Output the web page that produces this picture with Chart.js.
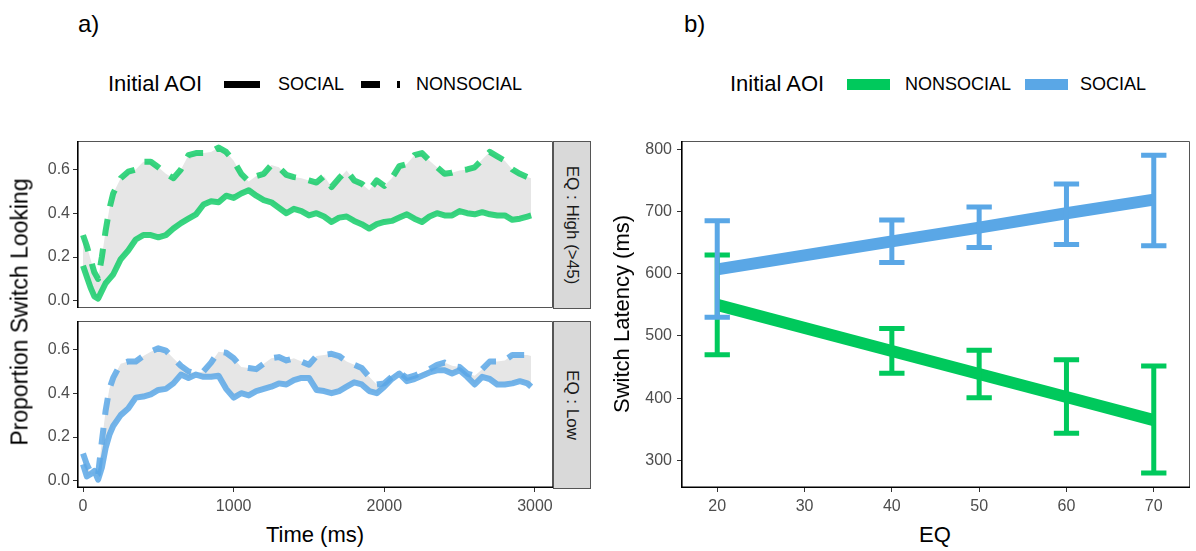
<!DOCTYPE html>
<html><head><meta charset="utf-8">
<script src="https://cdn.jsdelivr.net/npm/chart.js@4"></script>
<style>
body{margin:0;background:#fff;font-family:"Liberation Sans",Arial,sans-serif;}
#wrap{position:relative;width:1196px;height:551px;overflow:hidden;background:#fff;}
canvas{position:absolute;}
.t{position:absolute;white-space:nowrap;line-height:1;color:#000;}
.key{position:absolute;}
.strip{position:absolute;box-sizing:border-box;background:#d9d9d9;border:1px solid #555;}
</style></head>
<body>
<div id="wrap">
  <div class="t" style="left:78px;top:12px;font-size:24px;">a)</div>
  <div class="t" style="left:684px;top:12px;font-size:24px;">b)</div>

  <div class="t" style="left:108px;top:84px;font-size:22px;transform:translateY(-50%);">Initial AOI</div>
  <div class="key" style="left:224px;top:81px;width:36px;height:7px;background:#000;"></div>
  <div class="t" style="left:278px;top:84px;font-size:18px;transform:translateY(-50%);">SOCIAL</div>
  <div class="key" style="left:361px;top:81px;width:19px;height:7px;background:#000;"></div>
  <div class="key" style="left:397px;top:81px;width:3px;height:7px;background:#000;"></div>
  <div class="t" style="left:416px;top:84px;font-size:18px;transform:translateY(-50%);">NONSOCIAL</div>

  <div class="t" style="left:730px;top:84px;font-size:22px;transform:translateY(-50%);">Initial AOI</div>
  <div class="key" style="left:847px;top:79px;width:43px;height:11px;background:#00C95C;"></div>
  <div class="t" style="left:905px;top:84px;font-size:18px;transform:translateY(-50%);">NONSOCIAL</div>
  <div class="key" style="left:1025px;top:79px;width:43px;height:11px;background:#5AA7E6;"></div>
  <div class="t" style="left:1080px;top:84px;font-size:18px;transform:translateY(-50%);">SOCIAL</div>

  <canvas id="cTop" width="553" height="167" style="left:0;top:141px;width:553px;height:167px;"></canvas>
  <canvas id="cBot" width="553" height="199" style="left:0;top:321px;width:553px;height:199px;"></canvas>
  <canvas id="cB" width="590" height="379" style="left:600px;top:141px;width:590px;height:379px;"></canvas>

  <div class="strip" style="left:553px;top:141px;width:38px;height:168px;"></div>
  <div class="strip" style="left:553px;top:321px;width:38px;height:168px;"></div>
  <div class="t" style="left:572px;top:225px;font-size:17px;color:#1a1a1a;transform:translate(-50%,-50%) rotate(90deg);">EQ : High (&gt;45)</div>
  <div class="t" style="left:572px;top:405px;font-size:17px;color:#1a1a1a;transform:translate(-50%,-50%) rotate(90deg);">EQ : Low</div>

  <div class="t" style="left:20px;top:312px;font-size:23px;transform:translate(-50%,-50%) rotate(-90deg);">Proportion Switch Looking</div>
  <div class="t" style="left:315px;top:535px;font-size:22px;transform:translate(-50%,-50%);">Time (ms)</div>
  <div class="t" style="left:622px;top:314px;font-size:22px;transform:translate(-50%,-50%) rotate(-90deg);">Switch Latency (ms)</div>
  <div class="t" style="left:935px;top:535px;font-size:22px;transform:translate(-50%,-50%);">EQ</div>
</div>
<script>
// ---------- Data: panel a (time course) ----------
const timeMs = [0,25,50,75,100,125,150,175,200,250,300,350,400,450,500,550,600,650,700,750,800,850,900,950,1000,1050,1100,1150,1200,1250,1300,1350,1400,1450,1500,1550,1600,1650,1700,1750,1800,1850,1900,1950,2000,2050,2100,2150,2200,2250,2300,2350,2400,2450,2500,2550,2600,2650,2700,2750,2800,2850,2900,2950,2975];

const highSocial = [0.16,0.11,0.06,0.02,0.01,0.045,0.08,0.10,0.12,
 0.19,0.23,0.28,0.30,0.30,0.29,0.30,0.33,0.355,0.375,0.395,0.44,0.455,0.45,0.48,0.47,0.49,0.505,0.48,0.46,0.45,0.425,0.40,0.42,0.41,0.39,0.40,0.385,0.36,0.38,0.385,0.365,0.35,0.33,0.35,0.36,0.365,0.38,0.395,0.375,0.36,0.385,0.40,0.39,0.39,0.41,0.40,0.395,0.405,0.395,0.39,0.39,0.37,0.375,0.385,
 0.39];

const highNonsocial = [0.30,0.25,0.19,0.13,0.10,0.20,0.32,0.42,0.49,
 0.56,0.59,0.60,0.635,0.635,0.61,0.58,0.56,0.60,0.665,0.675,0.675,0.68,0.70,0.68,0.64,0.58,0.545,0.57,0.58,0.62,0.61,0.575,0.565,0.56,0.55,0.54,0.57,0.52,0.56,0.595,0.55,0.535,0.505,0.55,0.525,0.56,0.615,0.625,0.665,0.675,0.64,0.61,0.58,0.585,0.595,0.60,0.61,0.645,0.68,0.66,0.64,0.60,0.58,0.565,
 0.56];

const lowSocial = [0.075,0.02,0.03,0.045,0.005,0.06,0.15,0.21,0.25,
 0.30,0.33,0.38,0.385,0.395,0.415,0.42,0.445,0.485,0.47,0.485,0.475,0.475,0.48,0.42,0.38,0.40,0.39,0.41,0.42,0.43,0.445,0.44,0.46,0.47,0.47,0.415,0.41,0.40,0.41,0.43,0.45,0.44,0.41,0.40,0.43,0.465,0.49,0.455,0.465,0.48,0.495,0.505,0.505,0.49,0.505,0.475,0.44,0.475,0.465,0.44,0.44,0.445,0.455,0.445,
 0.43];

const lowNonsocial = [0.125,0.075,0.04,0.02,0.03,0.18,0.32,0.42,0.47,
 0.535,0.545,0.545,0.57,0.59,0.605,0.595,0.56,0.525,0.50,0.49,0.50,0.54,0.59,0.585,0.56,0.52,0.515,0.51,0.535,0.56,0.565,0.55,0.56,0.545,0.53,0.57,0.575,0.58,0.57,0.545,0.53,0.515,0.475,0.44,0.445,0.475,0.495,0.47,0.48,0.495,0.51,0.53,0.54,0.525,0.52,0.49,0.48,0.51,0.545,0.545,0.55,0.575,0.575,0.575,
 0.57];

const propTicks = [0.0, 0.2, 0.4, 0.6];
const timeTicks = [0, 1000, 2000, 3000];

// ---------- Data: panel b (EQ vs latency) ----------
const eqLevels = [20, 40, 50, 60, 70];
const eqTicks = [20, 30, 40, 50, 60, 70];
const latencyTicks = [300, 400, 500, 600, 700, 800];
const socialFit = [607, 652, 674, 697, 719];
const socialLow = [530, 618, 642, 647, 645];
const socialHigh = [685, 686, 707, 744, 790];
const nonsocialFit = [550, 476, 439, 402, 365];
const nonsocialLow = [470, 440, 401, 344, 280];
const nonsocialHigh = [630, 512, 477, 462, 452];

// ---------- Styling ----------
const GREEN = '#00C95C', BLUE = '#5AA7E6';
const GREEN_A = 'rgba(0,201,92,0.78)', BLUE_A = 'rgba(90,167,230,0.85)';
const RIBBON = '#E6E6E6';
const FONT = "'Liberation Sans', Arial, sans-serif";
Chart.defaults.font.family = FONT;
Chart.defaults.animation = false;

const toXY = (xs, ys) => xs.map((x, i) => ({x: x, y: ys[i]}));

function framePlugin(bottomAxis) {
  return {
    id: 'frame',
    afterDatasetsDraw(chart) {
      const a = chart.chartArea, c = chart.ctx;
      c.save();
      c.strokeStyle = '#555'; c.lineWidth = 1;
      c.beginPath();
      c.moveTo(a.left, a.top + 0.5);
      c.lineTo(a.right - 0.5, a.top + 0.5);
      c.lineTo(a.right - 0.5, a.bottom - 0.5);
      if (!bottomAxis) c.lineTo(a.left, a.bottom - 0.5);
      c.stroke();
      c.strokeStyle = '#000'; c.lineWidth = 1.6;
      c.beginPath();
      c.moveTo(a.left + 0.8, a.top);
      c.lineTo(a.left + 0.8, a.bottom - (bottomAxis ? 0.8 : 0));
      if (bottomAxis) c.lineTo(a.right, a.bottom - 0.8);
      c.stroke();
      c.restore();
    }
  };
}

function yAxisA() {
  return {
    type: 'linear', min: -0.033, max: 0.73,
    afterBuildTicks(s) { s.ticks = propTicks.map(v => ({value: v})); },
    afterFit(s) { s.width = 77; s.paddingTop = 0; s.paddingBottom = 0; },
    border: {display: false},
    grid: {display: true, drawOnChartArea: false, drawTicks: true, tickLength: 4, color: '#333', lineWidth: 1},
    ticks: {color: '#4d4d4d', font: {size: 16}, padding: 3, callback: v => Number(v).toFixed(1)}
  };
}
function xAxisA(show) {
  return {
    type: 'linear', min: -40, max: 3120, display: show,
    afterBuildTicks(s) { s.ticks = timeTicks.map(v => ({value: v})); },
    afterFit(s) { s.height = show ? 32 : 0; s.paddingLeft = 0; s.paddingRight = 0; },
    border: {display: false},
    grid: {display: true, drawOnChartArea: false, drawTicks: true, tickLength: 4, color: '#333', lineWidth: 1},
    ticks: {color: '#4d4d4d', font: {size: 16}, padding: 5, maxRotation: 0, callback: v => String(v)}
  };
}

function timeChart(id, social, nonsocial, colA, showX) {
  return new Chart(document.getElementById(id), {
    type: 'line',
    data: {
      datasets: [
        {label: 'SOCIAL', data: toXY(timeMs, social), borderColor: colA, borderWidth: 6,
         pointRadius: 0, tension: 0, fill: false, borderCapStyle: 'butt', borderJoinStyle: 'round'},
        {label: 'NONSOCIAL', data: toXY(timeMs, nonsocial), borderColor: colA, borderWidth: 6,
         borderDash: [17, 13], pointRadius: 0, tension: 0, borderCapStyle: 'butt', borderJoinStyle: 'round',
         fill: {target: 0}, backgroundColor: RIBBON}
      ]
    },
    options: {
      responsive: false, devicePixelRatio: 1, animation: false,
      layout: {padding: 0},
      plugins: {legend: {display: false}, tooltip: {enabled: false}, filler: {drawTime: 'beforeDatasetsDraw'}},
      scales: {x: xAxisA(showX), y: yAxisA()}
    },
    plugins: [framePlugin(showX)]
  });
}

timeChart('cTop', highSocial, highNonsocial, GREEN_A, false);
timeChart('cBot', lowSocial, lowNonsocial, BLUE_A, true);

// ---------- Panel b ----------
const CAP_HALF = 1.45; // EQ units
const errorBars = {
  id: 'errorBars',
  afterDatasetsDraw(chart) {
    const c = chart.ctx, x = chart.scales.x, y = chart.scales.y;
    const groups = [[nonsocialLow, nonsocialHigh, GREEN], [socialLow, socialHigh, BLUE]];
    c.save();
    c.lineWidth = 5; c.lineCap = 'butt';
    groups.forEach(([lo, hi, col]) => {
      c.strokeStyle = col;
      eqLevels.forEach((e, i) => {
        const px = x.getPixelForValue(e);
        const pl = x.getPixelForValue(e - CAP_HALF), pr = x.getPixelForValue(e + CAP_HALF);
        const yl = y.getPixelForValue(lo[i]), yh = y.getPixelForValue(hi[i]);
        c.beginPath();
        c.moveTo(px, yl); c.lineTo(px, yh);
        c.moveTo(pl, yl); c.lineTo(pr, yl);
        c.moveTo(pl, yh); c.lineTo(pr, yh);
        c.stroke();
      });
    });
    c.restore();
  }
};

new Chart(document.getElementById('cB'), {
  type: 'line',
  data: {
    datasets: [
      {label: 'SOCIAL', data: toXY(eqLevels, socialFit), borderColor: BLUE, borderWidth: 12,
       pointRadius: 0, tension: 0, fill: false, borderCapStyle: 'butt'},
      {label: 'NONSOCIAL', data: toXY(eqLevels, nonsocialFit), borderColor: GREEN, borderWidth: 12,
       pointRadius: 0, tension: 0, fill: false, borderCapStyle: 'butt'}
    ]
  },
  options: {
    responsive: false, devicePixelRatio: 1, animation: false,
    layout: {padding: 0},
    plugins: {legend: {display: false}, tooltip: {enabled: false}},
    scales: {
      x: {
        type: 'linear', min: 15.85, max: 74.15,
        afterBuildTicks(s) { s.ticks = eqTicks.map(v => ({value: v})); },
        afterFit(s) { s.height = 32; s.paddingLeft = 0; s.paddingRight = 0; },
        border: {display: false},
        grid: {display: true, drawOnChartArea: false, drawTicks: true, tickLength: 4, color: '#333', lineWidth: 1},
        ticks: {color: '#4d4d4d', font: {size: 16}, padding: 5, maxRotation: 0, callback: v => String(v)}
      },
      y: {
        type: 'linear', min: 256, max: 813,
        afterBuildTicks(s) { s.ticks = latencyTicks.map(v => ({value: v})); },
        afterFit(s) { s.width = 81; s.paddingTop = 0; s.paddingBottom = 0; },
        border: {display: false},
        grid: {display: true, drawOnChartArea: false, drawTicks: true, tickLength: 4, color: '#333', lineWidth: 1},
        ticks: {color: '#4d4d4d', font: {size: 16}, padding: 5, callback: v => String(v)}
      }
    }
  },
  plugins: [errorBars, framePlugin(true)]
});
</script>
</body></html>
